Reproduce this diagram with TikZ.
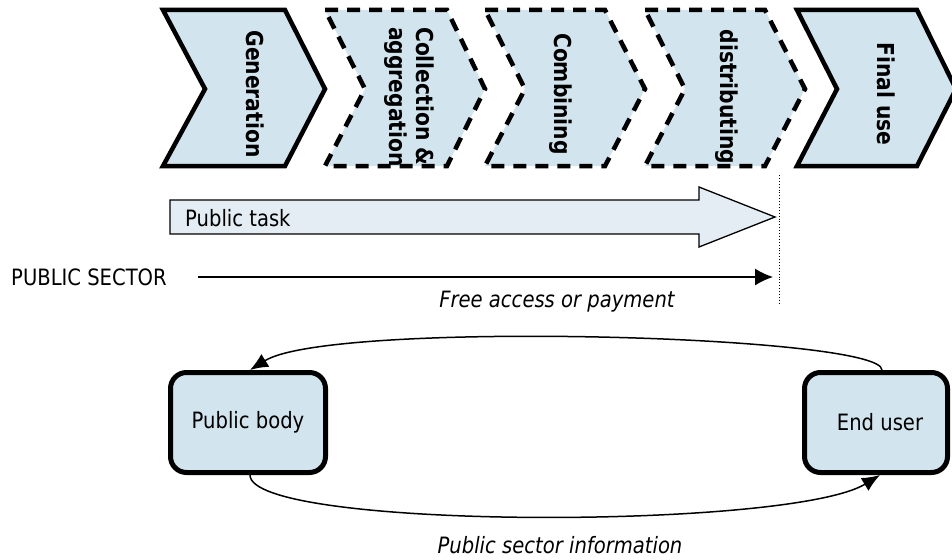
\documentclass[tikz,border=0pt]{standalone}
\usepackage{fontspec}
\setmainfont{DejaVu Sans}[FakeStretch=0.87]
\usetikzlibrary{arrows.meta}
\definecolor{chevfill}{RGB}{210,228,238}
\definecolor{taskfill}{RGB}{228,237,243}
\begin{document}
\begin{tikzpicture}[x=1pt,y=-1pt,
  chev/.style={fill=chevfill, draw=black, line width=4.5pt, line join=miter},
  chevdash/.style={chev, dash pattern=on 13pt off 9pt},
  chevtext/.style={rotate=-90, font=\fontsize{23.3}{27}\selectfont\bfseries, inner sep=0pt, align=left},
  lbl/.style={font=\fontsize{22.5}{25}\selectfont, inner sep=0pt},
  ilbl/.style={inner sep=0pt, font=\fontsize{22.5}{25}\selectfont\itshape},
  box/.style={draw, line width=5pt, fill=chevfill, rounded corners=16pt, minimum height=100pt, font=\fontsize{22.5}{25}\selectfont},
  flow/.style={line width=1.5pt, -{Latex[length=18pt,width=15pt]}}
]
\useasboundingbox (0,0) rectangle (952,559);

% value chain chevrons
\draw[chev] (163,10) -- (285,10) -- (325,89) -- (285,166) -- (163,166) -- (205,89) -- cycle;
\draw[chevdash] (325,10) -- (447,10) -- (485,89) -- (447,166) -- (325,166) -- (365,89) -- cycle;
\draw[chevdash] (485,10) -- (605,10) -- (645,89) -- (605,166) -- (485,166) -- (525,89) -- cycle;
\draw[chevdash] (645,10) -- (765,10) -- (805,89) -- (765,166) -- (645,166) -- (685,89) -- cycle;
\draw[chev] (797,10) -- (917,10) -- (956,89) -- (917,166) -- (797,166) -- (837,89) -- cycle;

\node[chevtext] (gen) at (255,94) {Generation};
\node[chevtext] (col) at (409,97) {Collection \&\\aggregation};
\node[chevtext] (comb) at (561,94) {Combining};
\node[chevtext] (dist) at (727,97) {distributing};
\node[chevtext] (fin) at (886,94) {Final use};

% public task arrow
\draw[fill=taskfill, line width=1.3pt, line join=miter]
  (170,200) -- (699,200) -- (699,187) -- (775,217) -- (699,247) -- (699,234) -- (170,234) -- cycle;
\node[lbl, anchor=west] (task) at (185,218) {Public task};

% dotted boundary
\coordinate (dtop) at (779,175);
\coordinate (dbot) at (779,305);
\draw[dotted, line width=0.9pt] (dtop) -- (dbot);

% public sector arrow
\node[lbl, anchor=west] (ps) at (11,277) {PUBLIC SECTOR};
\coordinate (psend) at (773,277);
\draw[line width=1.5pt, -{Latex[length=18pt,width=17pt]}] ([xshift=31pt]ps.east) -- (psend);
\node[ilbl] (fa) at (557,302) {Free access or payment};

% actors
\node[box, minimum width=155pt] (pb) at (248,422.5) {Public body};
\node[box, minimum width=143pt] (eu) at (876,422.5) {\hspace*{8pt}End user};

\draw[flow] ([xshift=6pt]eu.north) .. controls (882,335) and (330,320) .. ([xshift=2pt]pb.north);
\draw[flow] ([xshift=2pt]pb.south) .. controls (250,530) and (790,530) .. ([xshift=4pt]eu.south);

\node[ilbl] (psi) at (560,545) {Public sector information};
\end{tikzpicture}
\end{document}
